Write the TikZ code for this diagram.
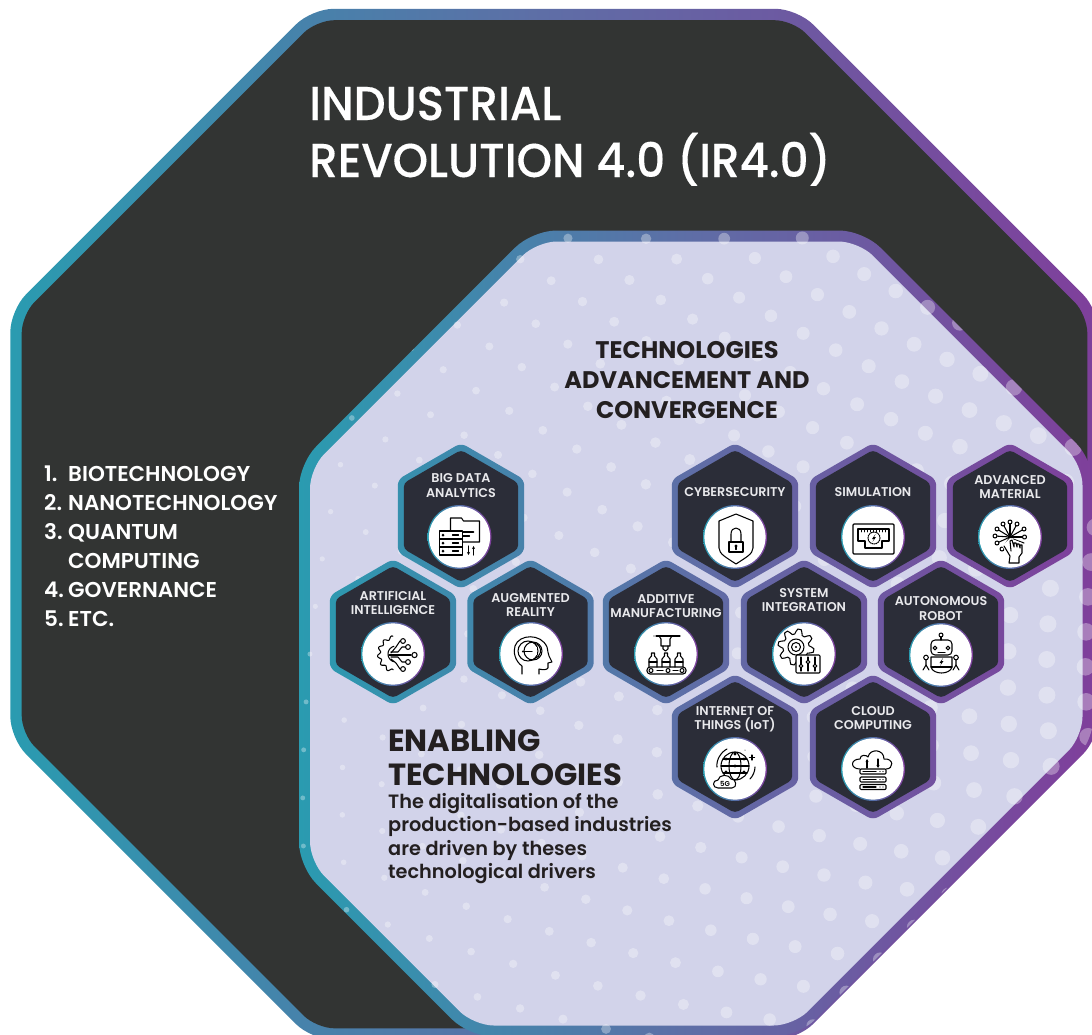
\documentclass[tikz,border=0pt]{standalone}
\usepackage{fontspec}
\usetikzlibrary{arrows.meta,calc}
\newfontfamily\popt{Poppins Medium}[FakeStretch=0.95,FakeBold=0.25]
\newfontfamily\pops{Poppins SemiBold}
\newfontfamily\popb{Poppins Bold}
\definecolor{ca}{HTML}{2A9BB0}
\definecolor{cb}{HTML}{5F6DA6}
\definecolor{cc}{HTML}{7F3F9B}
\definecolor{darkbg}{HTML}{323433}
\definecolor{hexbg}{HTML}{2B2D38}
\definecolor{lilac}{HTML}{D2D3EA}
\definecolor{ink}{HTML}{231F20}
\definecolor{lbl}{HTML}{E9E9EC}
\pgfdeclarehorizontalshading{brand}{100bp}{color(0bp)=(ca);color(25bp)=(ca);color(50bp)=(cb);color(75bp)=(cc);color(100bp)=(cc)}
% octagon: offset d, l t r b, chamfers tl tr br bl
\newcommand\octa[9]{%
 (600,{#3-#1}) -- ({#4+#1-(#7+0.586*#1)},{#3-#1}) -- ({#4+#1},{#3-#1+(#7+0.586*#1)}) -- ({#4+#1},{#5+#1-(#8+0.586*#1)}) -- ({#4+#1-(#8+0.586*#1)},{#5+#1}) -- ({#2-#1+(#9+0.586*#1)},{#5+#1}) -- ({#2-#1},{#5+#1-(#9+0.586*#1)}) -- ({#2-#1},{#3-#1+(#6+0.586*#1)}) -- ({#2-#1+(#6+0.586*#1)},{#3-#1}) -- cycle}
\newcommand\hexp[3]{({#1-0.866*#3},#2) -- ({#1-0.866*#3},{#2-0.5*#3}) -- (#1,{#2-#3}) -- ({#1+0.866*#3},{#2-0.5*#3}) -- ({#1+0.866*#3},{#2+0.5*#3}) -- (#1,{#2+#3}) -- ({#1-0.866*#3},{#2+0.5*#3}) -- cycle}
\newcommand\iconbase[2]{\shade[left color=ca,right color=cc] (#1,#2) circle (32);\fill[white] (#1,#2) circle (30.6);}
\newcommand\boltp[2]{\fill[black] ({#1+1.5},{#2-4}) -- ({#1-2},{#2+1}) -- ({#1},{#2+1}) -- ({#1-1.5},{#2+4}) -- ({#1+2},{#2-1}) -- ({#1},{#2-1}) -- cycle;}
\tikzset{
 lab/.style={text=lbl,align=center,inner sep=0pt,font=\pops\fontsize{12.7}{14.4}\selectfont},
 ic/.style={draw=black,line width=1.05pt,line cap=round,line join=round},
 tip/.style={-{Stealth[length=3pt,width=3pt]}},
 liststyle/.style={text=white,anchor=base west,inner sep=0pt,font=\pops\fontsize{21.5}{24}\selectfont},
 titlestyle/.style={text=white,anchor=base west,inner sep=0pt,font=\popt\fontsize{47.5}{50}\selectfont},
 headstyle/.style={text=ink,anchor=base,inner sep=0pt,font=\popb\fontsize{24}{28}\selectfont},
 enabstyle/.style={text=ink,anchor=base west,inner sep=0pt,font=\popb\fontsize{30.6}{34}\selectfont},
 descstyle/.style={text=ink,anchor=base west,inner sep=0pt,font=\pops\fontsize{19.3}{23}\selectfont},
}
\begin{document}
\begin{tikzpicture}[x=1pt,y=-1pt]
\useasboundingbox (0,0) rectangle (1092,1034);
\clip (0,0) rectangle (1092,1034);
\fill[white] (0,0) rectangle (1092,1034);
% outer octagon
\shade[shading=brand,rounded corners=22pt] \octa{5.7}{16}{14.5}{1093}{1034}{298}{298}{298}{298};
\fill[darkbg,rounded corners=18pt] \octa{-5.7}{16}{14.5}{1093}{1034}{298}{298}{298}{298};
% inner octagon
\shade[shading=brand,rounded corners=24pt] \octa{5.5}{304.5}{236}{1088}{1031}{230}{227}{292}{167};
\fill[lilac,rounded corners=20pt] \octa{-5.5}{304.5}{236}{1088}{1031}{230}{227}{292}{167};
% dots
\begin{scope}
\clip[rounded corners=24pt] \octa{5.5}{304.5}{236}{1088}{1031}{230}{227}{292}{167};
\foreach \i in {-14,...,14}{\foreach \j in {-14,...,14}{
 \pgfmathsetmacro\xo{40*\i+11*\j}
 \pgfmathsetmacro\yo{40*\j}
 \pgfmathsetmacro\ph{20-0.015*\xo-0.02*\yo}
 \pgfmathsetmacro\xx{700+\xo*cos(\ph)-\yo*sin(\ph)}
 \pgfmathsetmacro\yy{640+\xo*sin(\ph)+\yo*cos(\ph)}
 \pgfmathsetmacro\rr{max(2.2,2.5+6*(\xx-310)/740)}
 \fill[white,opacity=.33] (\xx,\yy) circle (\rr);
}}
\end{scope}
% hexagons
\begin{scope}
\clip[rounded corners=6pt] \foreach \cx/\cy in {461/516,735/516,873/516,1010/516,393/632,530.5/632,666/632,804/632,941/632,735/747,873/747}{ \hexp{\cx}{\cy}{73} };
\shade[shading=brand] (304.5,0) rectangle (1088,1034);
\end{scope}
\fill[hexbg,rounded corners=4pt] \foreach \cx/\cy in {461/516,735/516,873/516,1010/516,393/632,530.5/632,666/632,804/632,941/632,735/747,873/747}{ \hexp{\cx}{\cy}{66} };
% icon discs
\foreach \cx/\cy in {459.5/537,735/537,873/537,1010/537,393/654,531/654,666/654,804/654,941/655,735/769,873/769}{\iconbase{\cx}{\cy}}
% Big data
\begin{scope}[shift={(459.5,537)},ic]
\draw (-9,-6)--(-9,-19)--(2,-19)--(4,-16)--(20,-16)--(20,5)--(3,5);
\draw[line width=1.6pt] (3,-5)--(14,-5);\draw (3,-1)--(10,-1);
\fill[white] (-20,-6) rectangle (3,18);
\draw (-20,-6) rectangle (3,18);\draw (-20,2)--(3,2);\draw (-20,10)--(3,10);
\foreach \y in {-2,6,14}{\fill[black] (-16.5,\y) circle (1.5);\draw (-7,\y)--(-1,\y);}
\draw[tip] (9,9)--(9,18);\draw[tip] (14,18)--(14,9);
\end{scope}
% AI
\begin{scope}[shift={(393,654)},ic]
\draw plot[smooth,domain=100:260,samples=55] ({(17+1.6*sin(13*\x))*cos(\x)+3},{(17+1.6*sin(13*\x))*sin(\x)});
\draw plot[smooth,domain=105:255,samples=15] ({8*cos(\x)+3},{8*sin(\x)});
\draw (-2,-1)--(3,-7)--(7,-13)--(8,-13);\draw (-2,-2)--(5,-2)--(9,-7)--(13,-7);
\draw (-4,0.5)--(18,0.5);\draw (-4,1.5)--(18,1.5);
\draw (-2,3)--(5,3)--(9,8)--(13,8);\draw (-2,5)--(3,9)--(7,15)--(8,15);
\foreach \p/\q/\r in {10/-13/2.4,15/-7/2.4,21.5/1/2.6,15/8/2.4,10/15/2.4}{\fill[white] (\p,\q) circle (\r);\draw (\p,\q) circle (\r);}
\end{scope}
% AR
\begin{scope}[shift={(531,654)},ic]
\draw (-9,20)--(-9,12) .. controls (-16,7) and (-18,-2) .. (-16,-8) .. controls (-12,-20) and (10,-21) .. (16,-7) .. controls (17,-3) and (17,0) .. (18,2) -- (21,8) -- (17,9) -- (17,14) .. controls (16,16) and (12,16) .. (8,15) -- (8,20);
\draw (-3,-3) circle (10);\draw (2,-3) circle (9);
\fill[white] (-2,-7) rectangle (6,1);
\draw (-8,-2.5) -- (1,-2.5);\fill[black] (-8,-2.5) circle (1.2);
\draw (3,-11) arc (-80:80:8);
\end{scope}
% Cyber
\begin{scope}[shift={(735,537)},ic]
\draw (1,-23)--(18,-16)--(18,11) .. controls (18,17) and (10,21) .. (1,27) .. controls (-8,21) and (-16,17) .. (-16,11)--(-16,-16)--cycle;
\draw (-6,5) rectangle (8,15);
\draw (-4,5)--(-4,-3) .. controls (-4,-11) and (6,-11) .. (6,-3)--(6,5);
\fill[black] (1,9) circle (1.7);\draw (1,9)--(1,12.5);
\end{scope}
% Simulation
\begin{scope}[shift={(873,537)},ic]
\draw[rounded corners=1pt,line width=1.2pt] (-20,-13) rectangle (21,17);
\draw (-15,-8)--(16,-8)--(16,4)--(9,4)--(9,11)--(-8,11)--(-8,4)--(-15,4)--cycle;
\foreach \x in {-12,-9,...,13}{\draw[line width=.5pt] (\x,-8)--(\x,-5);}
\draw[densely dotted] (1,1) circle (6);
\boltp{1}{1}
\end{scope}
% Advanced material
\begin{scope}[shift={(1010,537)},ic]
\foreach \p/\q in {0/-15,7/-13,14/-8,14.5/0,-7/-13,-13/-8,-15/-1,-13/6,-8/12}{\draw (0,0)--(\p,\q);\fill[white] (\p,\q) circle (2);\draw (\p,\q) circle (2);}
\draw (3,2)--(14,6);\fill[black] (0,0) circle (2);
\fill[white] (0,1) -- (12,6) -- (12,14) -- (8,26) -- (-1,26) -- (-3,16) -- (-8,9) -- cycle;
\draw (-1,26)--(0,19) -- (-6,9) (1,14) -- (0,4) -- (2,3) -- (4,10) -- (4,6) -- (6,6) -- (7,10) -- (7,7) -- (9,7) -- (10,11) -- (10,8) -- (12,8) -- (12,16) -- (9,20) -- (9,26) -- (-1,26);
\end{scope}
% Additive
\begin{scope}[shift={(666,654)},ic]
\draw[line width=1.2pt] (-10,-18)--(14,-18);\fill[black] (-12,-18) circle (.6);
\draw (-7,-18)--(-5,-15)--(-5,-8)--(4,-8)--(4,-15)--(6,-18);
\draw (-3,-8)--(-3,-5)--(-.5,-3)--(2,-5)--(2,-8);
\foreach \x in {-13,0,13}{\draw[fill=white] ({\x-4},13) -- ({\x-4},5) -- ({\x-1.5},2) -- ({\x-1.5},-1) -- ({\x+1.5},-1) -- ({\x+1.5},2) -- ({\x+4},5) -- ({\x+4},13);\draw ({\x-4},8) -- ({\x+4},8);}
\draw[rounded corners=3pt] (-19,13) rectangle (20,20);
\foreach \x in {-15,2,16}{\draw (\x,16.5) circle (2);}
\draw (-9,16.5)--(-3,16.5);\draw (7,16.5)--(12,16.5);
\end{scope}
% System
\begin{scope}[shift={(804,654)},ic]
\draw plot[domain=0:360,samples=65] ({-8+(15.5+2.5*sign(sin(8*\x)))*cos(\x)},{-7+(15.5+2.5*sign(sin(8*\x)))*sin(\x)});
\draw (-8,-7) circle (8);\draw (-8,-7) circle (4.5);\fill[black] (-8,-7) circle (1.2);
\draw[fill=white,rounded corners=1pt] (-8,1) rectangle (16,19);
\foreach \x/\y in {-3/12,4/8,11/12}{\draw (\x,3)--(\x,17);\draw[fill=white] (\x,\y) circle (1.9);}
\end{scope}
% Robot
\begin{scope}[shift={(941,655)},ic]
\draw (0,-20) circle (2);\draw (0,-18)--(0,-15);
\draw[rounded corners=4pt] (-10,-15) rectangle (11,0);
\draw (-6,-7) circle (1.9);\draw (7,-7) circle (1.9);\draw (-3,-2.5)--(4,-2.5);
\draw (-10,2)--(11,2)--(11,12) .. controls (9,20) and (-8,20) .. (-10,12)--cycle;
\draw (-10,12)--(11,12);
\boltp{0.5}{7}
\draw (-15,2.5) circle (2.3);\draw (15,2.5) circle (2.3);
\draw (-15,5)--(-15,10)--(-18,15);\draw (-15,10)--(-12,15);
\draw (15,5)--(15,10)--(18,15);\draw (15,10)--(12,15);
\end{scope}
% IoT
\begin{scope}[shift={(735,769)},ic]
\draw (0,-3) circle (14);
\draw (0,-3) ellipse (6 and 14);\draw (-14,-3)--(14,-3);\draw (-12,-10)--(12,-10);\draw (-12,4)--(12,4);
\foreach \p/\q in {0/-15,-9/-10,9/-10,-9/3,9/3,0/-3}{\fill[black] (\p,\q) circle (1.7);}
\draw (-18,-2) .. controls (-19,-9) and (-14,-17) .. (-8,-20);
\draw (15,10) .. controls (18,7) and (20,2) .. (20,-2);
\draw[fill=white] (-17,19) .. controls (-23,19) and (-23,11) .. (-17,11) .. controls (-16,5) and (-6,5) .. (-4,10) .. controls (1,9) and (3,19) .. (-3,19) -- cycle;
\node[inner sep=0pt,text=black,font=\pops\fontsize{7}{8}\selectfont] (fiveg) at (-10,15) {5G};
\draw (17,-14)--(17,-9);\draw (14.5,-11.5)--(19.5,-11.5);\fill[black] (10,-19) circle (.5);
\end{scope}
% Cloud
\begin{scope}[shift={(873,769)},ic]
\draw (-13,0) .. controls (-23,0) and (-23,-10) .. (-13,-10) .. controls (-13,-15) and (-6,-14) .. (-5,-12) .. controls (-3,-21) and (11,-20) .. (11,-10) .. controls (21,-11) and (21,0) .. (13,0);
\draw[tip] (-6,-1)--(-6,-10);\draw[tip] (5,-10)--(5,-1);
\foreach \y in {0,8,15.5}{\draw[rounded corners=1pt] (-13,\y) rectangle (13,{\y+5});\draw (-10,{\y+2.5})--(3,{\y+2.5});\fill[black] (7,{\y+2.5}) circle (.7);\fill[black] (10,{\y+2.5}) circle (.7);}
\end{scope}
% labels
\node[lab] (lbigdata) at (461,485.5) {BIG DATA\\ANALYTICS};
\node[lab] (lai) at (393,603) {ARTIFICIAL\\INTELLIGENCE};
\node[lab] (lar) at (530.5,605) {AUGMENTED\\REALITY};
\node[lab] (lcyber) at (735,492) {CYBERSECURITY};
\node[lab] (lsim) at (873,492) {SIMULATION};
\node[lab] (ladv) at (1010,487) {ADVANCED\\MATERIAL};
\node[lab] (ladd) at (666,606) {ADDITIVE\\MANUFACTURING};
\node[lab] (lsys) at (804,600) {SYSTEM\\INTEGRATION};
\node[lab] (lrob) at (941,608.5) {AUTONOMOUS\\ROBOT};
\node[lab] (liot) at (735,719.5) {INTERNET OF\\THINGS (IoT)};
\node[lab] (lcloud) at (873,718) {CLOUD\\COMPUTING};
% title
\node[titlestyle] (t1) at (309,120) {INDUSTRIAL};
\node[titlestyle] (t2) at (309,177) {REVOLUTION 4.0 (IR4.0)};
% list
\node[liststyle] (n1) at (44,481) {1.};\node[liststyle] (a1) at (68,481) {BIOTECHNOLOGY};
\node[liststyle] (n2) at (44,510) {2.};\node[liststyle] (a2) at (68,510) {NANOTECHNOLOGY};
\node[liststyle] (n3) at (44,539) {3.};\node[liststyle] (a3) at (68,539) {QUANTUM};
\node[liststyle] (a3b) at (68,568) {COMPUTING};
\node[liststyle] (n4) at (44,597) {4.};\node[liststyle] (a4) at (68,597) {GOVERNANCE};
\node[liststyle] (n5) at (44,626) {5.};\node[liststyle] (a5) at (68,626) {ETC.};
% heading
\node[headstyle] (h1) at (687,358) {TECHNOLOGIES};
\node[headstyle] (h2) at (687,388) {ADVANCEMENT AND};
\node[headstyle] (h3) at (687,418) {CONVERGENCE};
% enabling
\node[enabstyle] (e1) at (388,751) {ENABLING};
\node[enabstyle] (e2) at (388,785) {TECHNOLOGIES};
\node[descstyle] (d1) at (388,808) {The digitalisation of the};
\node[descstyle] (d2) at (388,831) {production-based industries};
\node[descstyle] (d3) at (388,855) {are driven by theses};
\node[descstyle] (d4) at (388,878) {technological drivers};
\end{tikzpicture}
\end{document}
